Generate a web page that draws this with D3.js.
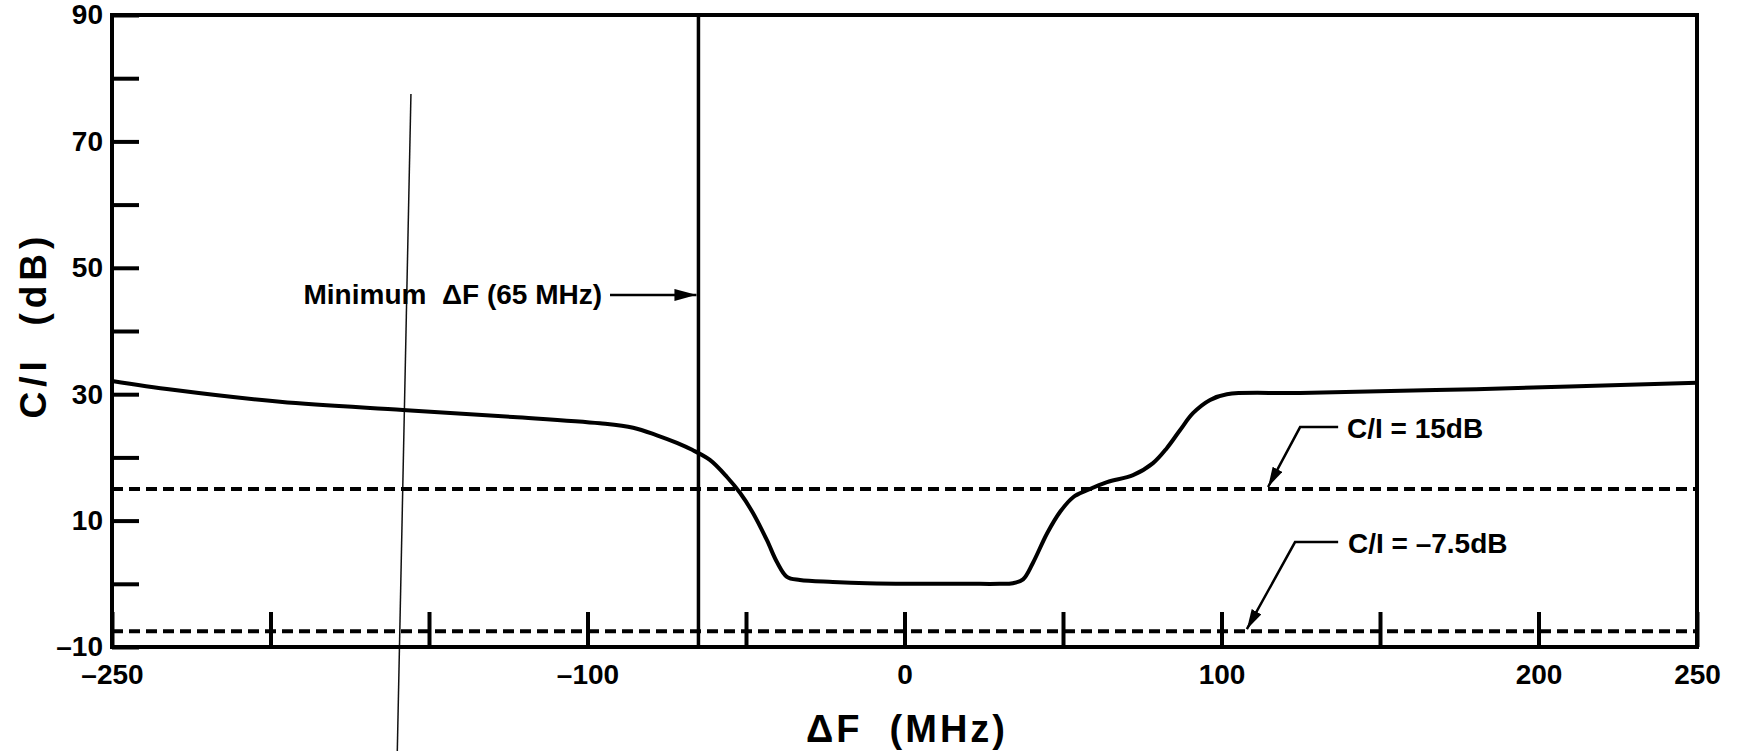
<!DOCTYPE html>
<html>
<head>
<meta charset="utf-8">
<script src="https://cdn.jsdelivr.net/npm/d3@7"></script>
<style>
  html, body { margin: 0; padding: 0; background: #fff; }
  svg { display: block; }
  text { font-family: "Liberation Sans", Arial, Helvetica, sans-serif; font-weight: bold; fill: #000; }
</style>
</head>
<body>
<svg id="chart" width="1742" height="751"></svg>
<script>
// Carrier-to-interference ratio versus frequency separation
const freqMHz = [-250, -230.8, -197, -158.2, -123.5, -96.1, -85.6, -78.1, -71.8, -67,
                 -61.4, -56, -51.9, -47.8, -43.4, -40.2, -37.1, -33, -22.6, -11.8,
                 4.9, 20, 30, 34.2, 37.4, 40.5, 45, 49.1, 53.2, 57.6, 63.9, 72.1,
                 78.4, 82.8, 86.9, 91, 96.4, 101.7, 124.8, 180.3, 250];
const ciDb = [32.1, 30.7, 28.8, 27.5, 26.4, 25.4, 24.7, 23.5, 22.3, 21.2,
              19.6, 16.9, 14.4, 11.2, 6.9, 3.4, 1.1, 0.6, 0.3, 0.1,
              0, 0, 0, 0.1, 0.7, 3.3, 8.0, 11.4, 13.7, 14.8, 16.1, 17.2,
              19.1, 21.5, 24.3, 27.0, 29.1, 30.0, 30.2, 30.8, 31.8];

// Axis ticks and labels
const xTickValues = [-250, -200, -150, -100, -50, 0, 50, 100, 150, 200, 250];
const xLabelValues = [-250, -100, 0, 100, 200, 250];
const yTickValues = [-10, 0, 10, 20, 30, 40, 50, 60, 70, 80, 90];
const yLabelValues = [-10, 10, 30, 50, 70, 90];

// Reference levels and the minimum separation marker
const thresholdDb = [15, -7.5];
const thresholdLabels = ["C/I = 15dB", "C/I = \u20137.5dB"];
const minSeparationMHz = -65;
const minSeparationLabel = "Minimum  \u0394F (65 MHz)";

const xTitle = "\u0394F  (MHz)";
const yTitle = "C/I  (dB)";

// Callout anchors, in data units: arrow tip, elbow, end of leader, label start
const calloutAnchors = [
  { tip: [114.7, 15],  elbow: [124.8, 24.8], end: [136.8, 24.8], label: [139.6, 23.2] },
  { tip: [108, -7.5],  elbow: [123.2, 6.6],  end: [136.8, 6.6],  label: [139.9, 5.0] }
];
const minLabelAnchor = { textEnd: [-95.4, 44.4], arrowStart: [-92.9, 45.7] };
// Stray pencil stroke across the sheet
const pencilStroke = [[-155.7, 77.5], [-160, -26.5]];

const minus = d => (d < 0 ? "\u2013" + Math.abs(d) : String(d));

const svg = d3.select("#chart");
svg.append("rect").attr("width", 1742).attr("height", 751).attr("fill", "#fff");

const x = d3.scaleLinear().domain([-250, 250]).range([112, 1697]);
const y = d3.scaleLinear().domain([-10, 90]).range([647, 15]);

const defs = svg.append("defs");
function arrowMarker(id, len, half) {
  defs.append("marker")
    .attr("id", id)
    .attr("markerUnits", "userSpaceOnUse")
    .attr("viewBox", `0 ${-half} ${len} ${2 * half}`)
    .attr("refX", len).attr("refY", 0)
    .attr("markerWidth", len).attr("markerHeight", 2 * half)
    .attr("orient", "auto")
    .append("path")
    .attr("d", `M0,${-half}L${len},0L0,${half}Z`)
    .attr("fill", "#000");
}
arrowMarker("headLarge", 22, 6);
arrowMarker("headSmall", 20, 5.5);

// Pencil stroke (drawn first, underneath everything)
svg.append("line")
  .attr("x1", x(pencilStroke[0][0])).attr("y1", y(pencilStroke[0][1]))
  .attr("x2", x(pencilStroke[1][0])).attr("y2", y(pencilStroke[1][1]))
  .attr("stroke", "#111").attr("stroke-width", 1.5);

const tickFont = sel => sel.style("font-size", "28px")
  .style("font-family", "Liberation Sans, Arial, sans-serif")
  .style("font-weight", "bold");

// Left axis
const yAxis = svg.append("g")
  .attr("transform", `translate(${x.range()[0]},0)`)
  .call(d3.axisLeft(y).tickValues(yTickValues).tickSizeInner(-27).tickSizeOuter(0).tickPadding(9)
    .tickFormat(d => (yLabelValues.includes(d) ? minus(d) : "")));
yAxis.select(".domain").remove();
yAxis.selectAll(".tick line").attr("stroke", "#000").attr("stroke-width", 4);
yAxis.selectAll(".tick text").call(tickFont);

// Bottom axis
const xAxis = svg.append("g")
  .attr("transform", `translate(0,${y.range()[0]})`)
  .call(d3.axisBottom(x).tickValues(xTickValues).tickSizeInner(-35).tickSizeOuter(0).tickPadding(17)
    .tickFormat(d => (xLabelValues.includes(d) ? minus(d) : "")));
xAxis.select(".domain").remove();
xAxis.selectAll(".tick line").attr("stroke", "#000").attr("stroke-width", 4);
xAxis.selectAll(".tick text").call(tickFont);

// Plot frame
svg.append("rect")
  .attr("x", x.range()[0]).attr("y", y.range()[1])
  .attr("width", x.range()[1] - x.range()[0])
  .attr("height", y.range()[0] - y.range()[1])
  .attr("fill", "none").attr("stroke", "#000").attr("stroke-width", 4);

// Threshold levels
svg.selectAll("line.threshold")
  .data(thresholdDb)
  .join("line")
  .attr("class", "threshold")
  .attr("x1", x(-250)).attr("x2", x(250))
  .attr("y1", d => y(d)).attr("y2", d => y(d))
  .attr("stroke", "#000").attr("stroke-width", 4)
  .attr("stroke-dasharray", "11,6");

// Minimum separation marker
svg.append("line")
  .attr("x1", x(minSeparationMHz)).attr("x2", x(minSeparationMHz))
  .attr("y1", y(90)).attr("y2", y(-10))
  .attr("stroke", "#000").attr("stroke-width", 3.5);

// C/I curve
const line = d3.line()
  .x((d, i) => x(freqMHz[i]))
  .y(d => y(d))
  .curve(d3.curveCatmullRom.alpha(0.5));
svg.append("path")
  .datum(ciDb)
  .attr("d", line)
  .attr("fill", "none")
  .attr("stroke", "#000")
  .attr("stroke-width", 4)
  .attr("stroke-linejoin", "round");

// Minimum separation callout
svg.append("text")
  .attr("x", x(minLabelAnchor.textEnd[0]))
  .attr("y", y(minLabelAnchor.textEnd[1]) + 1)
  .attr("text-anchor", "end")
  .style("font-size", "28px")
  .style("white-space", "pre")
  .text(minSeparationLabel);
svg.append("line")
  .attr("x1", x(minLabelAnchor.arrowStart[0])).attr("y1", y(minLabelAnchor.arrowStart[1]))
  .attr("x2", x(minSeparationMHz) - 2).attr("y2", y(minLabelAnchor.arrowStart[1]))
  .attr("stroke", "#000").attr("stroke-width", 2.5)
  .attr("marker-end", "url(#headLarge)");

// Threshold callouts
calloutAnchors.forEach((c, i) => {
  svg.append("path")
    .attr("d", d3.line()([
      [x(c.end[0]), y(c.end[1])],
      [x(c.elbow[0]), y(c.elbow[1])],
      [x(c.tip[0]), y(thresholdDb[i]) - 2]
    ]))
    .attr("fill", "none").attr("stroke", "#000").attr("stroke-width", 2.5)
    .attr("marker-end", "url(#headSmall)");
  svg.append("text")
    .attr("x", x(c.label[0])).attr("y", y(c.label[1]) + 1)
    .style("font-size", "28px")
    .text(thresholdLabels[i]);
});

// Axis titles
svg.append("text")
  .attr("transform", `translate(46,325) rotate(-90)`)
  .attr("text-anchor", "middle")
  .style("font-size", "37px")
  .style("letter-spacing", "5px")
  .style("white-space", "pre")
  .text(yTitle);
svg.append("text")
  .attr("x", 907).attr("y", 742)
  .attr("text-anchor", "middle")
  .style("font-size", "38px")
  .style("letter-spacing", "3px")
  .style("white-space", "pre")
  .text(xTitle);
</script>
</body>
</html>
